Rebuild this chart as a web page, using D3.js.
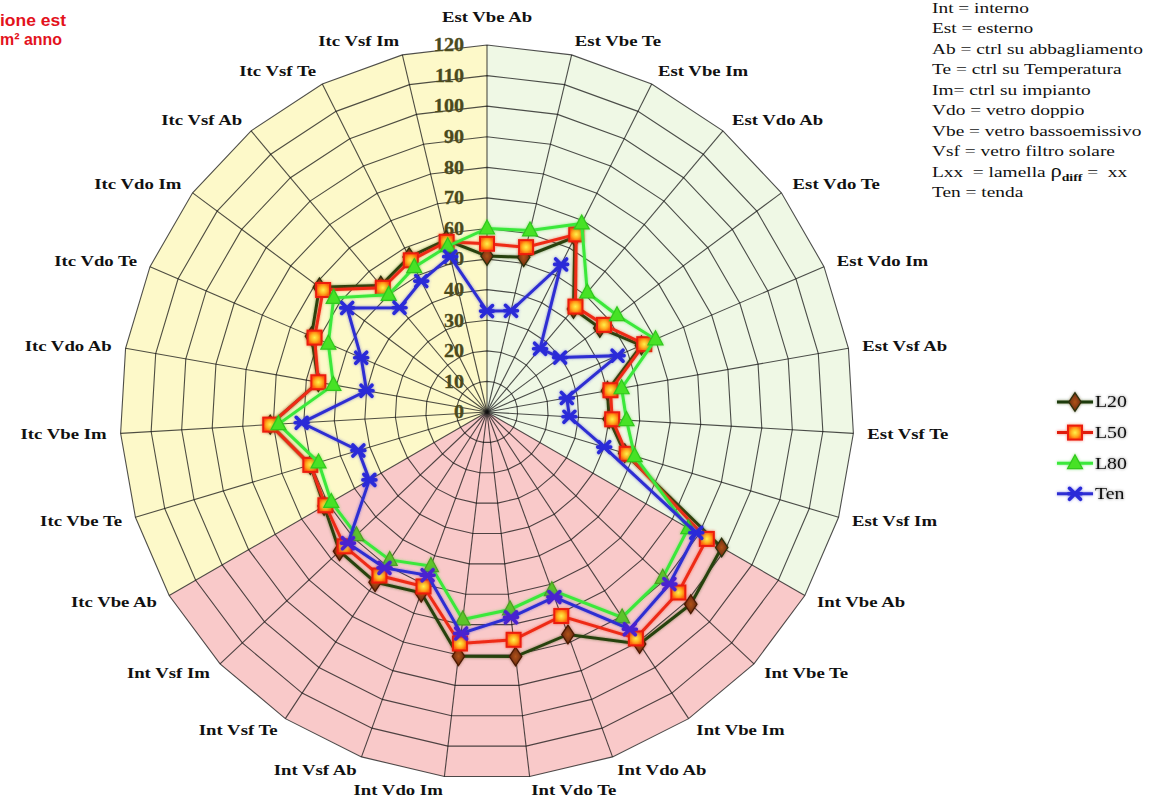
<!DOCTYPE html>
<html><head><meta charset="utf-8">
<script src="https://cdn.jsdelivr.net/npm/d3@7"></script>
<style>
html,body{margin:0;padding:0;background:#fff;}
svg{display:block;}
text{white-space:pre;}
</style></head>
<body>
<svg id="chart" width="1156" height="801"></svg>
<script>
const categories = ["Est Vbe Ab","Est Vbe Te","Est Vbe Im","Est Vdo Ab","Est Vdo Te","Est Vdo Im","Est Vsf Ab","Est Vsf Te","Est Vsf Im",
  "Int Vbe Ab","Int Vbe Te","Int Vbe Im","Int Vdo Ab","Int Vdo Te","Int Vdo Im","Int Vsf Ab","Int Vsf Te","Int Vsf Im",
  "Itc Vbe Ab","Itc Vbe Te","Itc Vbe Im","Itc Vdo Ab","Itc Vdo Te","Itc Vdo Im","Itc Vsf Ab","Itc Vsf Te","Itc Vsf Im"];
const L20 = [51, 52, 64, 44, 46, 55, 40, 40, 47, 88.6, 91.6, 90.8, 77.4, 80.5, 80.4, 62.9, 66.6, 66.3, 61.5, 60.3, 71, 56, 62.5, 68.3, 54, 56.7, 57.8];
const L50 = [55, 55.4, 65, 45, 47.7, 56, 41, 41, 47.7, 83, 86, 88.6, 71, 75, 76.2, 60.7, 64, 64, 61, 60.3, 71, 56, 61.4, 66.8, 53, 55.5, 57.2];
const L80 = [60, 61, 69, 51, 53, 60, 44.7, 45.7, 50.4, 76, 79, 80.4, 62, 65, 68.3, 53.6, 57.9, 58.7, 58.8, 57.5, 68.3, 51, 56.5, 62.5, 50, 53, 55.7];
const Ten = [33, 34, 54, 27, 29.8, 46.5, 26.5, 27, 40, 79, 82, 85, 64.4, 67.6, 72.9, 56.8, 61, 62.5, 44.4, 43.9, 60.7, 40, 44.8, 57, 44.5, 47.9, 52.2];
const seriesNames = ["L20", "L50", "L80", "Ten"];
const tickValues = [0, 10, 20, 30, 40, 50, 60, 70, 80, 90, 100, 110, 120];
const regionNames = ["Est", "Int", "Itc"];
const regionStart = [0, 9, 18];
const regionFill = ["#eff8e5", "#f9c9c9", "#fdf9c9"];
const notes = ["Int = interno", "Est = esterno", "Ab = ctrl su abbagliamento", "Te = ctrl su Temperatura",
  "Im= ctrl su impianto", "Vdo = vetro doppio", "Vbe = vetro bassoemissivo", "Vsf = vetro filtro solare",
  "Lxx  = lamella ρdiff =  xx", "Ten = tenda"];
const titleLines = ["ione est", "m² anno"];

const seriesData = [L20, L50, L80, Ten];
const lineColor = ["#26420f", "#ee2a14", "#3be83b", "#2f2fd2"];
const lineColorPink = ["#5c2408", "#ff1a10", "#6cbf26", "#5a1fd0"];

const svg = d3.select("#chart");
const cx = 487, cy = 412, R = 367;
const n = categories.length;
const r = d3.scaleLinear().domain([0, 120]).range([0, R]);
const a = d3.scaleLinear().domain([0, n]).range([0, 2 * Math.PI]);

const defs = svg.append("defs");
const grad = defs.append("radialGradient").attr("id", "sqGrad");
grad.append("stop").attr("offset", "0%").attr("stop-color", "#fff04a");
grad.append("stop").attr("offset", "55%").attr("stop-color", "#ffb020");
grad.append("stop").attr("offset", "100%").attr("stop-color", "#ff5a08");
const dgrad = defs.append("radialGradient").attr("id", "diaGrad");
dgrad.append("stop").attr("offset", "0%").attr("stop-color", "#b0521a");
dgrad.append("stop").attr("offset", "100%").attr("stop-color", "#6a2a0c");
const glow = defs.append("filter").attr("id", "glow").attr("x", "-20%").attr("y", "-20%").attr("width", "140%").attr("height", "140%");
glow.append("feGaussianBlur").attr("in", "SourceGraphic").attr("stdDeviation", 1.6).attr("result", "b");
glow.append("feComponentTransfer").attr("in", "b").attr("result", "b2")
  .append("feFuncA").attr("type", "linear").attr("slope", 0.55);
const fm = glow.append("feMerge");
fm.append("feMergeNode").attr("in", "b2");
fm.append("feMergeNode").attr("in", "SourceGraphic");

const radial = d3.lineRadial().angle(d => a(d[0])).radius(d => r(d[1])).curve(d3.curveLinearClosed);
const radialRaw = d3.lineRadial().angle(d => a(d[0])).radius(d => d[1]).curve(d3.curveLinearClosed);

// clip paths for pink region vs others
const pinkIdx = d3.range(regionStart[1], regionStart[2] + 1);
const otherIdx = d3.range(regionStart[2], n + regionStart[1] + 1);
defs.append("clipPath").attr("id", "clipPink").append("path")
  .attr("transform", `translate(${cx},${cy})`)
  .attr("d", radialRaw([[regionStart[1], 0]].concat(pinkIdx.map(i => [i, 1500]))));
defs.append("clipPath").attr("id", "clipOther").append("path")
  .attr("transform", `translate(${cx},${cy})`)
  .attr("d", radialRaw([[regionStart[2], 0]].concat(otherIdx.map(i => [i, 1500]))));

const g = svg.append("g").attr("transform", `translate(${cx},${cy})`);

// region backgrounds
regionStart.forEach((s, k) => {
  const pts = [[s, 0]].concat(d3.range(s, s + 10).map(i => [i, 120]));
  g.append("path").attr("d", radial(pts)).attr("fill", regionFill[k]).attr("stroke", "none");
});

// grid rings
tickValues.filter(v => v > 0).forEach(v => {
  g.append("path").attr("d", radial(d3.range(n).map(i => [i, v])))
    .attr("fill", "none").attr("stroke", "#141414").attr("stroke-opacity", 0.75).attr("stroke-width", 1.1);
});
// spokes
g.selectAll("line.spoke").data(d3.range(n)).join("line").attr("class", "spoke")
  .attr("x1", 0).attr("y1", 0)
  .attr("x2", i => r(120) * Math.sin(a(i))).attr("y2", i => -r(120) * Math.cos(a(i)))
  .attr("stroke", "#141414").attr("stroke-opacity", 0.75).attr("stroke-width", 1.1);

// tick labels
g.selectAll("text.tick").data(tickValues).join("text").attr("class", "tick")
  .attr("transform", v => `translate(-23,${-r(v)}) scale(1.06,1)`)
  .attr("text-anchor", "end").attr("dominant-baseline", "central")
  .attr("font-family", "Liberation Serif, serif").attr("font-weight", "bold").attr("font-size", 19)
  .attr("fill", "#4b4a1c").attr("stroke", "#4b4a1c").attr("stroke-width", 0.3).text(v => v);

// category labels
const LR = R + 14;
g.selectAll("text.cat").data(categories).join("text").attr("class", "cat")
  .attr("transform", (d, i) => {
    const s = Math.sin(a(i)), c = Math.cos(a(i));
    const mid = Math.abs(s) < 0.05;
    const x = LR * s, y = -LR * c - (mid ? 14 : 0);
    return `translate(${x},${y}) scale(1.25,1)`;
  })
  .attr("text-anchor", (d, i) => { const s = Math.sin(a(i)); return Math.abs(s) < 0.05 ? "middle" : (s > 0 ? "start" : "end"); })
  .attr("dominant-baseline", "central")
  .attr("font-family", "Liberation Serif, serif").attr("font-weight", "bold").attr("font-size", 15)
  .attr("fill", "#111").text(d => d);

// marker drawing
function drawMarker(sel, k, pink) {
  if (k === 0) {
    sel.append("path").attr("d", d3.symbol(d3.symbolDiamond, 100)())
      .attr("transform", "scale(1.15,1)")
      .attr("fill", "url(#diaGrad)").attr("stroke", pink ? "#4a1a06" : "#2a300c").attr("stroke-width", 1.2);
  } else if (k === 1) {
    sel.append("rect").attr("x", -7).attr("y", -7).attr("width", 14).attr("height", 14)
      .attr("fill", "url(#sqGrad)").attr("stroke", "#ec1c0c").attr("stroke-width", 2);
  } else if (k === 2) {
    sel.append("path").attr("d", "M0,-8.5L7.5,5.5L-7.5,5.5Z")
      .attr("fill", pink ? "#5cc42c" : "#46e226").attr("stroke", pink ? "#4aa020" : "#30c81c").attr("stroke-width", 1.2);
  } else {
    const s = 5.5;
    sel.append("path").attr("d", `M${-s},${-s}L${s},${s}M${-s},${s}L${s},${-s}M${-s-1},0L${s+1},0`)
      .attr("stroke", pink ? "#4a22d0" : "#2a2ad8").attr("stroke-width", 3.6).attr("stroke-linecap", "round")
      .attr("fill", "none");
  }
}

// series
seriesData.forEach((vals, k) => {
  const sg = svg.append("g").attr("filter", "url(#glow)");
  const pts = vals.map((v, i) => [i, v]);
  sg.append("path").attr("clip-path", "url(#clipOther)")
    .attr("transform", `translate(${cx},${cy})`)
    .attr("d", radial(pts)).attr("fill", "none").attr("stroke", lineColor[k]).attr("stroke-width", 3);
  sg.append("path").attr("clip-path", "url(#clipPink)")
    .attr("transform", `translate(${cx},${cy})`)
    .attr("d", radial(pts)).attr("fill", "none").attr("stroke", lineColorPink[k]).attr("stroke-width", 3);
  const mg = sg.append("g").attr("transform", `translate(${cx},${cy})`);
  vals.forEach((v, i) => {
    const m = mg.append("g").attr("transform", `translate(${r(v) * Math.sin(a(i))},${-r(v) * Math.cos(a(i))})`);
    drawMarker(m, k, i > regionStart[1] && i < regionStart[2]);
  });
});

// series legend
const lg = svg.append("g").attr("transform", "translate(1057,402)");
seriesNames.forEach((nm, k) => {
  const row = lg.append("g").attr("transform", `translate(0,${k * 30.6})`).attr("filter", "url(#glow)");
  row.append("line").attr("x1", 0).attr("x2", 36).attr("y1", 0).attr("y2", 0)
    .attr("stroke", k === 0 ? "#1c3a0c" : (k === 1 ? "#e01a10" : lineColor[k])).attr("stroke-width", 3);
  drawMarker(row.append("g").attr("transform", "translate(18,0)"), k, false);
  row.append("text").attr("transform", "translate(38,0) scale(1.2,1)")
    .attr("dominant-baseline", "central")
    .attr("font-family", "Liberation Serif, serif").attr("font-size", 16.5).attr("fill", "#111").text(nm);
});

// notes (abbreviations)
const ng = svg.append("g");
notes.forEach((t, i) => {
  const txt = ng.append("text").attr("transform", `translate(932,${13 + i * 20.45}) scale(1.25,1)`)
    .attr("font-family", "Liberation Serif, serif").attr("font-size", 15.5).attr("fill", "#111");
  if (t.includes("ρdiff")) {
    const [pre, post] = t.split("ρdiff");
    txt.append("tspan").text(pre);
    txt.append("tspan").attr("font-size", 18).text("ρ");
    txt.append("tspan").attr("font-size", 11).attr("font-weight", "bold").attr("dy", 4).text("diff");
    txt.append("tspan").attr("dy", -4).text(post);
  } else {
    txt.text(t);
  }
});

// title fragment visible at the left edge
titleLines.forEach((t, i) => {
  svg.append("text").attr("x", 0).attr("y", 26 + i * 18.5)
    .attr("textLength", i === 0 ? 66 : 62).attr("lengthAdjust", "spacingAndGlyphs")
    .attr("font-family", "Liberation Sans, sans-serif").attr("font-weight", "bold").attr("font-size", 16)
    .attr("fill", "#e3121c").text(t);
});
</script>
</body></html>
